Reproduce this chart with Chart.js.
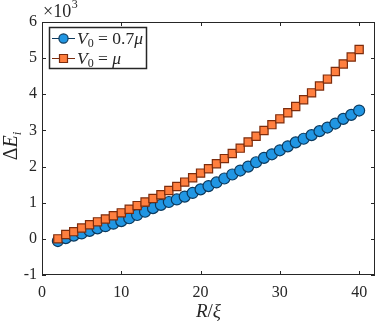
<!DOCTYPE html>
<html><head><meta charset="utf-8">
<script src="https://cdn.jsdelivr.net/npm/chart.js@4"></script>
<style>html,body{margin:0;padding:0;background:#fff;overflow:hidden}</style>
</head>
<body><canvas id="c" width="382" height="322"></canvas>
<script>
const radiusValues = [2,3,4,5,6,7,8,9,10,11,12,13,14,15,16,17,18,19,20,21,22,23,24,25,26,27,28,29,30,31,32,33,34,35,36,37,38,39,40];
const blueValues = [-0.06,0.02,0.09,0.15,0.22,0.29,0.35,0.42,0.49,0.57,0.66,0.75,0.85,0.94,1.02,1.09,1.17,1.27,1.37,1.46,1.56,1.67,1.78,1.89,2.00,2.12,2.24,2.34,2.45,2.56,2.67,2.77,2.87,2.98,3.08,3.19,3.32,3.43,3.55];
const orangeValues = [0.00,0.12,0.20,0.30,0.39,0.47,0.55,0.64,0.72,0.82,0.92,1.02,1.12,1.22,1.34,1.45,1.57,1.69,1.82,1.94,2.08,2.22,2.36,2.51,2.68,2.84,3.00,3.16,3.32,3.49,3.66,3.85,4.04,4.23,4.42,4.63,4.84,5.03,5.24];
const xTicks = [0,10,20,30,40];
const yTicks = [-1,0,1,2,3,4,5,6];
const seriesLabels = ['V0 = 0.7μ','V0 = μ'];

const TXT = '#262626';
const SERIF = '"Liberation Serif","Times New Roman",serif';
const BLUE_FILL = '#2196e3', BLUE_EDGE = '#0c3a5e';
const ORG_FILL = '#ff7f3f', ORG_EDGE = '#7d2c0c';

function richWidth(ctx, parts) {
  let w = 0;
  for (const p of parts) {
    ctx.font = (p[1] || '') + ' ' + p[2] + 'px ' + SERIF;
    w += ctx.measureText(p[0]).width;
  }
  return w;
}
function drawRich(ctx, x, y, parts) {
  let cx = x;
  for (const p of parts) {
    ctx.font = (p[1] || '') + ' ' + p[2] + 'px ' + SERIF;
    ctx.fillText(p[0], cx, y + (p[3] || 0));
    cx += ctx.measureText(p[0]).width;
  }
  return cx;
}

const decor = {
  id: 'decor',
  afterDraw(chart) {
    const ctx = chart.ctx;
    const a = chart.chartArea;
    const xs = chart.scales.x, ys = chart.scales.y;
    ctx.save();
    ctx.strokeStyle = TXT;
    ctx.lineWidth = 1;
    ctx.strokeRect(Math.round(a.left) + 0.5, Math.round(a.top) + 0.5, Math.round(a.right - a.left) - 1, Math.round(a.bottom - a.top) - 1);
    ctx.beginPath();
    const tl = 4;
    for (const v of xTicks) {
      const px = Math.round(xs.getPixelForValue(v)) + 0.5;
      ctx.moveTo(px, a.bottom); ctx.lineTo(px, a.bottom - tl);
      ctx.moveTo(px, a.top); ctx.lineTo(px, a.top + tl);
    }
    for (const v of yTicks) {
      const py = Math.round(ys.getPixelForValue(v)) + 0.5;
      ctx.moveTo(a.left, py); ctx.lineTo(a.left + tl, py);
      ctx.moveTo(a.right, py); ctx.lineTo(a.right - tl, py);
    }
    ctx.stroke();

    ctx.fillStyle = TXT;
    ctx.textBaseline = 'alphabetic';
    ctx.textAlign = 'left';
    // x title R/ξ
    const xt = [['R', 'italic', 19], ['/', '', 19], ['ξ', 'italic', 19]];
    const cxm = (a.left + a.right) / 2;
    drawRich(ctx, cxm - richWidth(ctx, xt) / 2, 317, xt);
    // exponent ×10^3
    const ex = drawRich(ctx, 43, 17, [['×10', '', 18]]);
    drawRich(ctx, ex + 0.5, 8, [['3', '', 12]]);
    // y title ΔE_i rotated
    const yt = [['Δ', '', 20], ['E', 'italic', 20], ['i', 'italic', 13, 4]];
    const yw = richWidth(ctx, yt);
    ctx.save();
    ctx.translate(17, 146 + yw / 2);
    ctx.rotate(-Math.PI / 2);
    drawRich(ctx, 0, 0, yt);
    ctx.restore();

    // legend
    const lx = 49, ly = 27, lw = 97, lh = 41;
    ctx.fillStyle = '#ffffff';
    ctx.fillRect(lx, ly, lw, lh);
    ctx.strokeStyle = TXT;
    ctx.lineWidth = 1.5;
    ctx.strokeRect(lx + 0.5, ly + 0.5, lw, lh);
    const rows = [
      {y: 38.5, edge: BLUE_EDGE, fill: BLUE_FILL, shape: 'circle', parts: [['V', 'italic', 17.5], ['0', '', 12, 3], [' = 0.7', '', 17.5], ['μ', 'italic', 17.5]]},
      {y: 58.5, edge: ORG_EDGE, fill: ORG_FILL, shape: 'rect', parts: [['V', 'italic', 17.5], ['0', '', 12, 3], [' = ', '', 17.5], ['μ', 'italic', 17.5]]}
    ];
    for (const r of rows) {
      ctx.strokeStyle = r.edge;
      ctx.lineWidth = 1;
      ctx.beginPath(); ctx.moveTo(52, r.y); ctx.lineTo(75, r.y); ctx.stroke();
      ctx.fillStyle = r.fill;
      ctx.lineWidth = 1.2;
      ctx.beginPath();
      if (r.shape === 'circle') ctx.arc(63.5, r.y, 4.6, 0, Math.PI * 2);
      else ctx.rect(59.5, r.y - 4, 8, 8);
      ctx.fill(); ctx.stroke();
      ctx.fillStyle = TXT;
      drawRich(ctx, 77, r.y + 5.5, r.parts);
    }
    ctx.restore();
  }
};

const mk = (vals) => radiusValues.map((x, i) => ({x: x, y: vals[i]}));

new Chart(document.getElementById('c'), {
  type: 'line',
  data: {
    datasets: [
      {label: seriesLabels[0], data: mk(blueValues), borderColor: BLUE_EDGE, borderWidth: 1,
       pointStyle: 'circle', pointRadius: 5.5, pointBackgroundColor: BLUE_FILL, pointBorderColor: BLUE_EDGE,
       pointBorderWidth: 1.2, order: 1, tension: 0},
      {label: seriesLabels[1], data: mk(orangeValues), borderColor: ORG_EDGE, borderWidth: 1,
       pointStyle: 'rect', pointRadius: 5.8, pointBackgroundColor: ORG_FILL, pointBorderColor: ORG_EDGE,
       pointBorderWidth: 1.2, order: 0, tension: 0}
    ]
  },
  options: {
    responsive: false,
    animation: false,
    devicePixelRatio: 1,
    layout: {padding: {top: 22, right: 2, left: 0, bottom: 0}},
    plugins: {legend: {display: false}, tooltip: {enabled: false}},
    scales: {
      x: {
        type: 'linear', min: 0, max: 42,
        afterFit: s => { s.height = 47; },
        afterBuildTicks: s => { s.ticks = xTicks.map(v => ({value: v})); },
        grid: {display: false, drawTicks: false},
        border: {display: false},
        ticks: {color: TXT, font: {family: SERIF, size: 16}, padding: 8, maxRotation: 0}
      },
      y: {
        type: 'linear', min: -1, max: 6,
        afterFit: s => { s.width = 42; },
        afterBuildTicks: s => { s.ticks = yTicks.map(v => ({value: v})); },
        grid: {display: false, drawTicks: false},
        border: {display: false},
        ticks: {color: TXT, font: {family: SERIF, size: 16}, padding: 5, callback: v => String(v)}
      }
    }
  },
  plugins: [decor]
});
</script>
</body></html>
